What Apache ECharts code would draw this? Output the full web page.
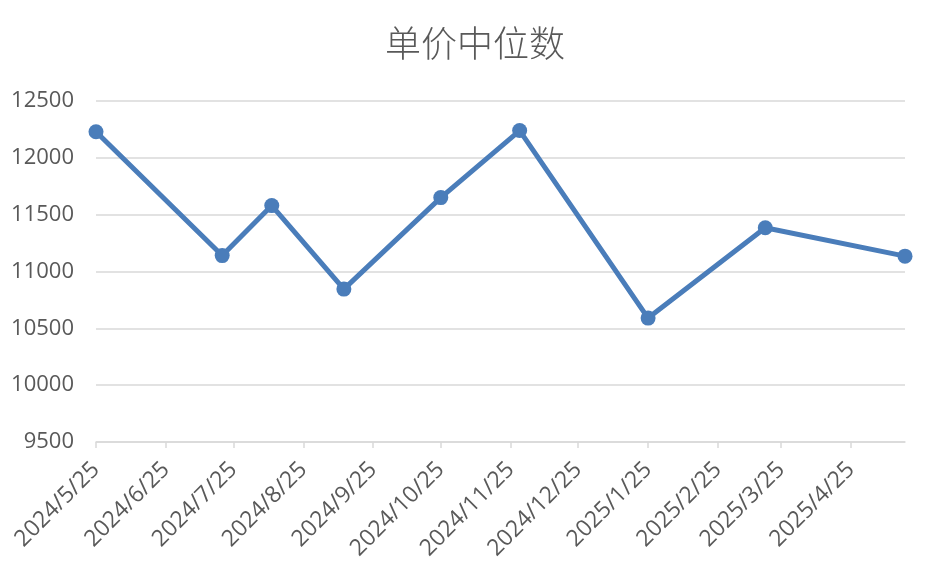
<!DOCTYPE html>
<html>
<head>
<meta charset="utf-8">
<script src="https://cdn.jsdelivr.net/npm/echarts@6/dist/echarts.min.js"></script>
<style>
html,body{margin:0;padding:0;background:#fff;}
#c{width:950px;height:569px;}
</style>
</head>
<body>
<div id="c"></div>
<script>
const titleText = '单价中位数';
const dates = ['2024/5/25','2024/7/20','2024/8/11','2024/9/12','2024/10/25','2024/11/29','2025/1/25','2025/3/18','2025/5/19'];
const values = [12230, 11140, 11580, 10845, 11650, 12240, 10590, 11385, 11135];
const xTickLabels = ['2024/5/25','2024/6/25','2024/7/25','2024/8/25','2024/9/25','2024/10/25','2024/11/25','2024/12/25','2025/1/25','2025/2/25','2025/3/25','2025/4/25'];
const yMin = 9500, yMax = 12500, yStep = 500;

const DAY = 86400000;
function toDay(s){ const p = s.split('/').map(Number); return Math.round(Date.UTC(p[0], p[1]-1, p[2]) / DAY); }
function fmt(v){ const d = new Date(Math.round(v) * DAY); return d.getUTCFullYear()+'/'+(d.getUTCMonth()+1)+'/'+d.getUTCDate(); }

const tickDays = xTickLabels.map(toDay);
const seriesData = dates.map((d,i)=>[toDay(d), values[i]]);
const FONT = '"Open Sans", "Liberation Sans", sans-serif';

const chart = echarts.init(document.getElementById('c'), null, {renderer:'canvas'});
chart.setOption({
  animation:false,
  backgroundColor:'#fff',
  title:{
    text:titleText, left:'center', top:20,
    textStyle:{fontFamily:'"Noto Sans CJK SC", sans-serif', fontSize:36, fontWeight:300, color:'#595959'}
  },
  grid:{left:96, right:45, top:101, bottom:127, containLabel:false},
  xAxis:{
    type:'value',
    min:toDay(dates[0]), max:toDay(dates[dates.length-1]),
    axisLine:{show:true, lineStyle:{color:'#d9d9d9', width:1.5}},
    axisTick:{show:true, customValues:tickDays, length:6, lineStyle:{color:'#d9d9d9', width:1.5}},
    axisLabel:{customValues:tickDays, rotate:45, formatter:fmt, fontFamily:FONT, fontSize:23, color:'#595959', margin:24, hideOverlap:false},
    splitLine:{show:false}
  },
  yAxis:{
    type:'value', min:yMin, max:yMax, interval:yStep,
    axisLine:{show:false}, axisTick:{show:false},
    axisLabel:{fontFamily:FONT, fontSize:22, color:'#595959', margin:22, formatter:function(v){return String(v);}},
    splitLine:{lineStyle:{color:'#d9d9d9', width:1.5}}
  },
  series:[{
    type:'line', data:seriesData,
    symbol:'circle', symbolSize:15,
    lineStyle:{color:'#4a7dba', width:5},
    itemStyle:{color:'#4a7dba'}
  }]
});
</script>
</body>
</html>
